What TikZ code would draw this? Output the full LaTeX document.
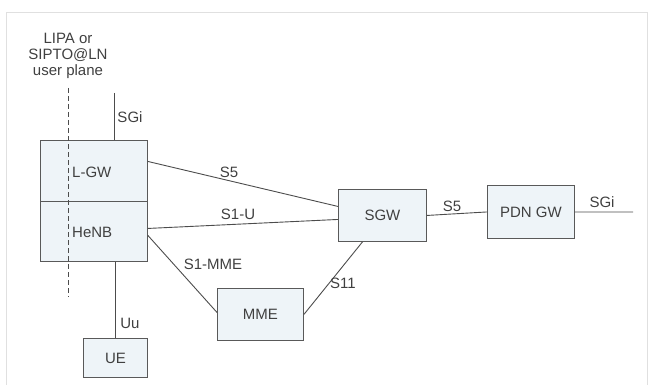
\documentclass[tikz,border=0pt]{standalone}
\usepackage{fontspec}
\setmainfont{Liberation Sans}
\begin{document}
\begin{tikzpicture}[x=1pt,y=-1pt,
  box/.style={draw=black!65,fill=boxfill,line width=0.9pt,inner sep=0pt},
  conn/.style={draw=black!70,line width=0.9pt},
  lbl/.style={inner sep=0pt,text=black!75,font=\fontsize{15}{17}\selectfont},
  txt/.style={inner sep=0pt,text=black!75,font=\fontsize{15}{17}\selectfont}]
\definecolor{boxfill}{HTML}{EEF4F8}
\useasboundingbox (0,0) rectangle (650,385);
\draw[black!12,line width=0.8pt] (6,385) -- (6,12) -- (647,12) -- (647,385);
% boxes
\node[box,minimum width=107pt,minimum height=61pt,anchor=north west] (lgw) at (40,140) {};
\node[box,minimum width=107pt,minimum height=60pt,anchor=north west] (henb) at (40,201) {};
\node[txt,anchor=west] (lgwt) at (72,172) {L-GW};
\node[txt,anchor=west] (henbt) at (72,232) {HeNB};
\node[box,minimum width=64pt,minimum height=39pt,anchor=north west,font=\fontsize{15}{17}\selectfont,text=black!75] (ue) at (83,338) {UE};
\node[box,minimum width=86pt,minimum height=52pt,anchor=north west,font=\fontsize{15}{17}\selectfont,text=black!75] (mme) at (217,288) {MME};
\node[box,minimum width=88pt,minimum height=52pt,anchor=north west,font=\fontsize{15}{17}\selectfont,text=black!75] (sgw) at (338,189) {SGW};
\node[box,minimum width=87pt,minimum height=53pt,anchor=north west,font=\fontsize{15}{17}\selectfont,text=black!75] (pdn) at (487,185) {PDN GW};
% LIPA label and dashed line
\node[txt,align=center] (lipa) at (68,56) {LIPA or\\[-1pt]SIPTO@LN\\[-1pt]user plane};
\coordinate (dtop) at (68,88);
\coordinate (dbot) at (68,297);
\draw[black!70,line width=0.9pt,dash pattern=on 5pt off 3pt] (dtop) -- (dbot);
% SGi top
\coordinate (sgitop) at (114,93);
\draw[conn] (sgitop) -- (sgitop |- lgw.north);
\node[lbl] (sgil) at (130,117) {SGi};
% Uu
\draw[conn] (ue.north |- henb.south) -- (ue.north);
\node[lbl] (uul) at (130,323) {Uu};
% S5 L-GW to SGW
\draw[conn] ([yshift=9.5pt]lgw.east) -- ([yshift=9pt]sgw.west);
\node[lbl] (s5a) at (229,172) {S5};
% S1-U
\draw[conn] ([yshift=3pt]henb.east) -- ([yshift=-4pt]sgw.west);
\node[lbl] (s1u) at (238,214) {S1-U};
% S1-MME
\draw[conn] ([yshift=-4pt]henb.east) -- ([yshift=2pt]mme.west);
\node[lbl] (s1mme) at (213,264) {S1-MME};
% S11
\draw[conn] (mme.east) -- ([xshift=-20pt]sgw.south);
\node[lbl] (s11) at (343,283) {S11};
% S5 SGW-PDN
\draw[conn] (sgw.east) -- (pdn.west);
\node[lbl] (s5b) at (452,206) {S5};
% SGi right
\coordinate (sgiend) at (633,212);
\draw[conn] (pdn.east) -- (sgiend);
\node[lbl] (sgir) at (602,202) {SGi};
\end{tikzpicture}
\end{document}
